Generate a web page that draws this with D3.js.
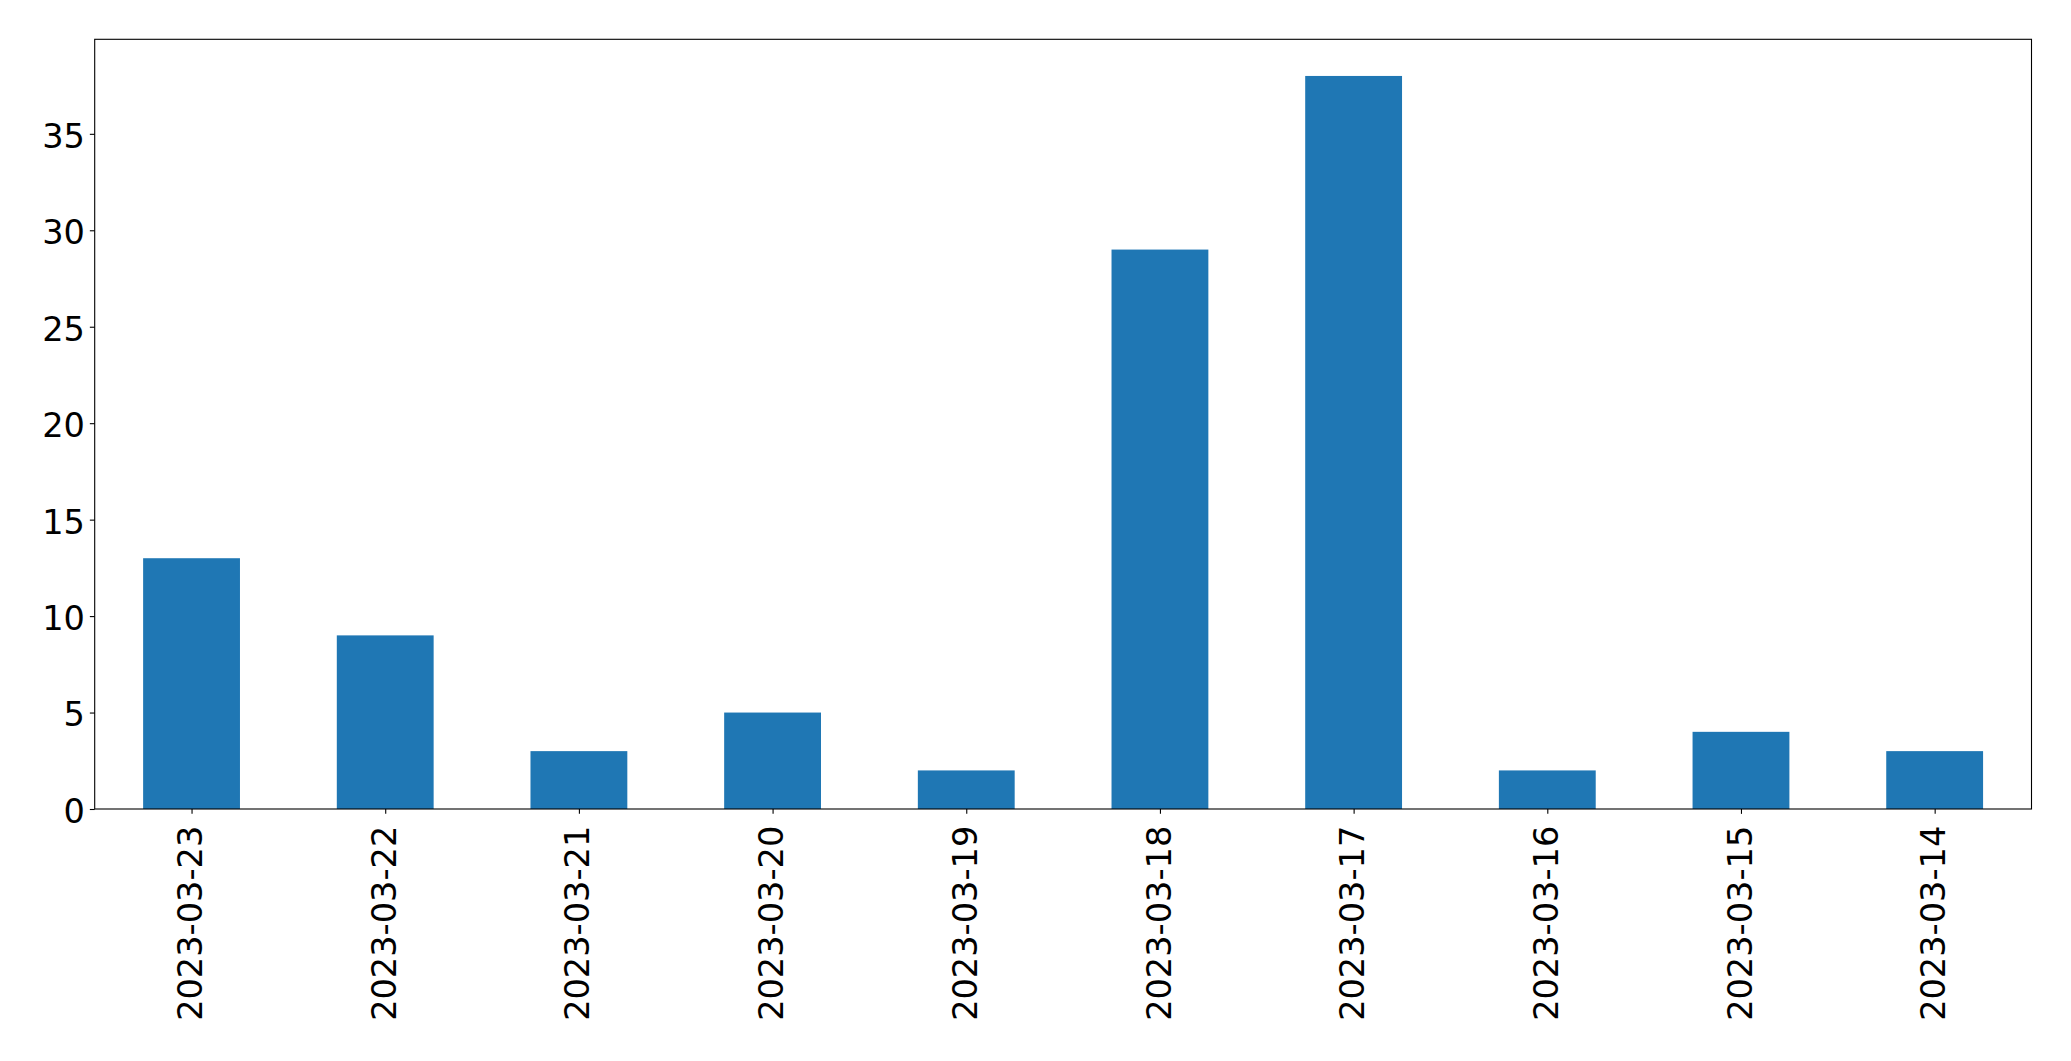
<!DOCTYPE html>
<html><head><meta charset="utf-8">
<script src="https://cdn.jsdelivr.net/npm/d3@7"></script>
<style>body{margin:0;background:#fff}svg{display:block}text{font-family:"DejaVu Sans",sans-serif}</style>
</head><body><svg id="c" width="2071" height="1061"></svg>
<script>
const categories = ["2023-03-23","2023-03-22","2023-03-21","2023-03-20","2023-03-19","2023-03-18","2023-03-17","2023-03-16","2023-03-15","2023-03-14"];
const values = [13, 9, 3, 5, 2, 29, 38, 2, 4, 3];
const yTicks = [0, 5, 10, 15, 20, 25, 30, 35];

const W = 2071, H = 1061;
const m = {left: 94.7, right: 2031.5, top: 39.3, bottom: 809};
const svg = d3.select("#c");
const fs = 33.6, tickLen = 4.86, pad = 4.86;

const x = d3.scaleLinear().domain([-0.5, categories.length - 0.5]).range([m.left, m.right]);
const y = d3.scaleLinear().domain([0, d3.max(values) * 1.05]).range([m.bottom, m.top]);

svg.append("g").selectAll("rect").data(values).join("rect")
  .attr("x", (d, i) => x(i - 0.25)).attr("width", (d, i) => x(i + 0.25) - x(i - 0.25))
  .attr("y", d => y(d)).attr("height", d => y(0) - y(d))
  .attr("fill", "#1f77b4");

// frame
svg.append("rect").attr("x", m.left).attr("y", m.top)
  .attr("width", m.right - m.left).attr("height", m.bottom - m.top)
  .attr("fill", "none").attr("stroke", "#000").attr("stroke-width", 1.1);

// y axis
const yAxis = d3.axisLeft(y).tickValues(yTicks).tickSize(tickLen).tickPadding(pad).tickFormat(d3.format("d"));
const gy = svg.append("g").attr("transform", `translate(${m.left},0)`).call(yAxis);
gy.select(".domain").remove();
gy.selectAll("line").attr("stroke", "#000").attr("stroke-width", 1.1);
gy.selectAll("text").attr("font-size", fs).attr("fill", "#000").attr("font-family", "DejaVu Sans")
  .attr("dy", "0.4em");

// x axis
const xAxis = d3.axisBottom(x).tickValues(d3.range(categories.length)).tickSize(tickLen).tickPadding(pad).tickFormat(i => categories[i]);
const gx = svg.append("g").attr("transform", `translate(0,${m.bottom})`).call(xAxis);
gx.select(".domain").remove();
gx.selectAll("line").attr("stroke", "#000").attr("stroke-width", 1.1);
gx.selectAll("text").attr("font-size", fs).attr("fill", "#000").attr("font-family", "DejaVu Sans")
  .attr("text-anchor", "end").attr("dy", "0.3em")
  .attr("transform", `translate(0,${tickLen + pad + 7}) rotate(-90)`)
  .attr("x", 0).attr("y", 0);
</script></body></html>
